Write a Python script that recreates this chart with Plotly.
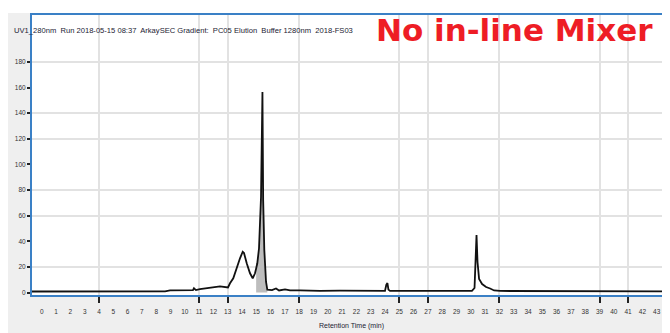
import plotly.graph_objects as go

# ---- data ----
time_min = [-0.685, 4.07, 8.62, 8.97, 10.57, 10.64, 10.78, 11.06, 11.76, 12.11, 12.46,
            13.02, 13.16, 13.39, 13.63, 13.86, 14.05, 14.14, 14.33, 14.56, 14.75, 14.91,
            14.99, 15.07, 15.19, 15.28, 15.33, 15.43, 15.48, 15.56, 15.61, 15.68, 15.77,
            16.10, 16.38, 16.59, 17.01, 17.36, 18.06, 19.45, 20.85, 22.25, 24.00, 24.09,
            24.17, 24.24, 24.35, 27.85, 30.08, 30.26, 30.33, 30.40, 30.47, 30.58, 30.79,
            31.07, 31.35, 31.63, 32.04, 39.04, 43.93]
signal_mau = [0.8, 0.8, 0.9, 1.6, 1.9, 3.3, 1.9, 2.7, 3.5, 4.3, 4.7,
              3.9, 7.2, 11.1, 20.1, 26.7, 31.8, 30.8, 22.8, 15.0, 11.1, 15.0,
              18.7, 22.8, 34.5, 55.0, 74.5, 156.5, 72.2, 33.2, 21.5, 8.4, 2.3,
              1.9, 3.1, 1.6, 2.5, 1.6, 1.6, 1.2, 1.4, 1.2, 1.2, 5.9,
              7.4, 2.3, 1.2, 1.2, 1.2, 3.5, 21.5, 44.9, 23.8, 10.5, 6.6,
              4.3, 3.1, 1.6, 1.2, 1.0, 0.9]
peak_window = (14.99, 15.77)   # integrated (shaded) peak

x_tick_vals = list(range(0, 44))
x_tick_text = [str(v) for v in x_tick_vals]
x_grid_vals = [4, 11, 13, 18, 25, 27, 32, 39, 41]
y_tick_vals = [0, 20, 40, 60, 80, 100, 120, 140, 160, 180]
y_tick_text = [str(v) for v in y_tick_vals]
y_grid_vals = [20, 60, 80, 120, 140, 180]

header_text = "UV1_280nm  Run 2018-05-15 08:37  ArkaySEC Gradient:  PC05 Elution  Buffer 1280nm  2018-FS03"
x_title = "Retention Time (min)"
red_label = "No in-line Mixer"

# ---- layout geometry (page body has an 8 px margin) ----
OFF = 8
W, H = 670 - OFF, 333 - OFF
L, R, T, B = 32 - OFF, 0, 15 - OFF, 333 - 295
PW, PH = W - L - R, H - T - B


def px(x):
    """reference-screen x pixel -> paper coordinate"""
    return (x - OFF - L) / PW


def py(y):
    """reference-screen y pixel -> paper coordinate"""
    return (H - B - (y - OFF)) / PH


fig = go.Figure()

peak_x = [t for t in time_min if peak_window[0] <= t <= peak_window[1]]
peak_y = [v for t, v in zip(time_min, signal_mau) if peak_window[0] <= t <= peak_window[1]]
fig.add_trace(go.Scatter(x=peak_x, y=peak_y, mode="lines", fill="tozeroy",
                         fillcolor="#bdbdbd", line=dict(width=0), hoverinfo="skip"))
fig.add_trace(go.Scatter(x=time_min, y=signal_mau, mode="lines",
                         line=dict(color="#111111", width=1.8)))

eps = 1e-6
fig.update_xaxes(
    range=[-0.685, 43.93], showgrid=False, zeroline=False,
    tickmode="array", tickvals=x_tick_vals, ticktext=x_tick_text,
    ticks="outside", ticklen=9, tickcolor="rgba(0,0,0,0)",
    tickfont=dict(family="Liberation Sans", size=6.5, color="#333"),
    showline=True, mirror=True, linecolor="#3a80c6", linewidth=2,
    minor=dict(tickmode="array", tickvals=[v + eps for v in x_grid_vals],
               showgrid=True, gridcolor="#e2e2e2", gridwidth=1.6,
               ticks="outside", ticklen=6, tickcolor="#222", tickwidth=1.5),
)
fig.update_yaxes(
    range=[-1.95, 216.6], showgrid=False, zeroline=False,
    tickmode="array", tickvals=y_tick_vals, ticktext=y_tick_text,
    ticks="outside", ticklen=3, tickcolor="#222", tickwidth=1.5,
    tickfont=dict(family="Liberation Sans", size=6.5, color="#333"),
    showline=True, mirror=False, linecolor="#3a80c6", linewidth=2,
    minor=dict(tickmode="array", tickvals=[v + eps for v in y_grid_vals],
               showgrid=True, gridcolor="#e2e2e2", gridwidth=1.6, ticks=""),
)

gray = "#efefef"
shapes = [
    dict(type="rect", xref="paper", yref="paper", x0=px(OFF), x1=px(30), y0=py(333), y1=py(13),
         fillcolor=gray, line=dict(width=0), layer="below"),
    dict(type="rect", xref="paper", yref="paper", x0=px(30), x1=px(670), y0=py(333), y1=py(297),
         fillcolor=gray, line=dict(width=0), layer="below"),
]

annotations = [
    dict(text=header_text, xref="paper", yref="paper", x=px(12), y=py(30),
         xanchor="left", yanchor="middle", showarrow=False,
         font=dict(family="Liberation Sans", size=7.6, color="#223")),
    dict(text=red_label, xref="paper", yref="paper", x=px(374), y=py(30),
         xanchor="left", yanchor="middle", showarrow=False,
         font=dict(family="DejaVu Sans", size=31, color="#ee1d25", weight="bold")),
    dict(text=x_title, xref="paper", yref="paper", x=px(351), y=py(326),
         xanchor="center", yanchor="middle", showarrow=False,
         font=dict(family="Liberation Sans", size=7, color="#223")),
]

fig.update_layout(
    width=W, height=H, margin=dict(l=L, r=R, t=T, b=B, pad=0),
    paper_bgcolor="white", plot_bgcolor="white",
    showlegend=False, hovermode=False,
    shapes=shapes, annotations=annotations,
)

fig.write_html("out.html")
